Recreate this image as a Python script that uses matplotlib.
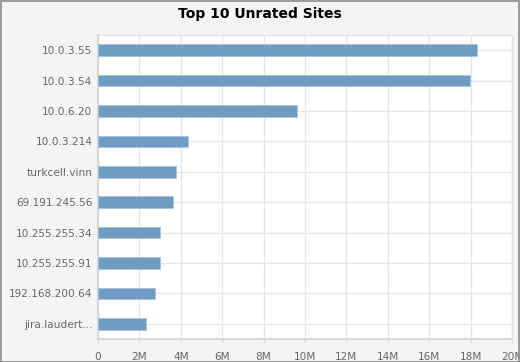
import matplotlib
matplotlib.use('Agg')
import matplotlib.pyplot as plt
from matplotlib.patches import Rectangle
from matplotlib.ticker import FuncFormatter

sites = ['10.0.3.55', '10.0.3.54', '10.0.6.20', '10.0.3.214', 'turkcell.vinn',
         '69.191.245.56', '10.255.255.34', '10.255.255.91', '192.168.200.64',
         'jira.laudert...']
traffic = [18.31e6, 17.99e6, 9.63e6, 4.33e6, 3.75e6,
           3.62e6, 3.00e6, 2.98e6, 2.75e6, 2.32e6]
xticks = [0, 2e6, 4e6, 6e6, 8e6, 10e6, 12e6, 14e6, 16e6, 18e6, 20e6]

fig = plt.figure(figsize=(5.2, 3.62), dpi=100, facecolor='#f4f4f4')
ax = fig.add_axes([98 / 520, 23 / 362, 414 / 520, 304 / 362])
ax.set_facecolor('white')

pos = list(range(len(sites)))
ax.barh(pos, traffic, height=0.38, color='#6f9cc3', edgecolor='#a9c4dd',
        linewidth=0.6, zorder=3)

ax.set_ylim(len(sites) - 0.5, -0.5)
ax.set_xlim(0, 20e6)
ax.set_yticks(pos)
ax.set_yticklabels(sites)
ax.set_xticks(xticks)
ax.xaxis.set_major_formatter(FuncFormatter(lambda v, p: '0' if v == 0 else '%dM' % (v / 1e6)))

ax.grid(True, color='#e6e6e6', linewidth=1.0, zorder=0)
ax.tick_params(axis='both', colors='#666666', labelsize=7.6, length=0)
ax.tick_params(axis='x', pad=6, length=3, color='#e0e0e0')
ax.tick_params(axis='y', pad=4)
for s in ax.spines.values():
    s.set_color('#e3e3e3')
    s.set_linewidth(1)
ax.spines['left'].set_color('#d8d8d8')
ax.spines['bottom'].set_color('#d8d8d8')
ax.spines['left'].set_linewidth(1.5)
ax.spines['bottom'].set_linewidth(1.5)

fig.text(0.5, 1 - 14 / 362, 'Top 10 Unrated Sites', ha='center', va='center',
         fontsize=10, fontweight='bold', color='black')

fig.patches.append(Rectangle((0.001, 0.001), 0.997, 0.996, transform=fig.transFigure,
                             fill=False, edgecolor='#8a8a8a', linewidth=1.2))

fig.savefig('out.png', dpi=100)
